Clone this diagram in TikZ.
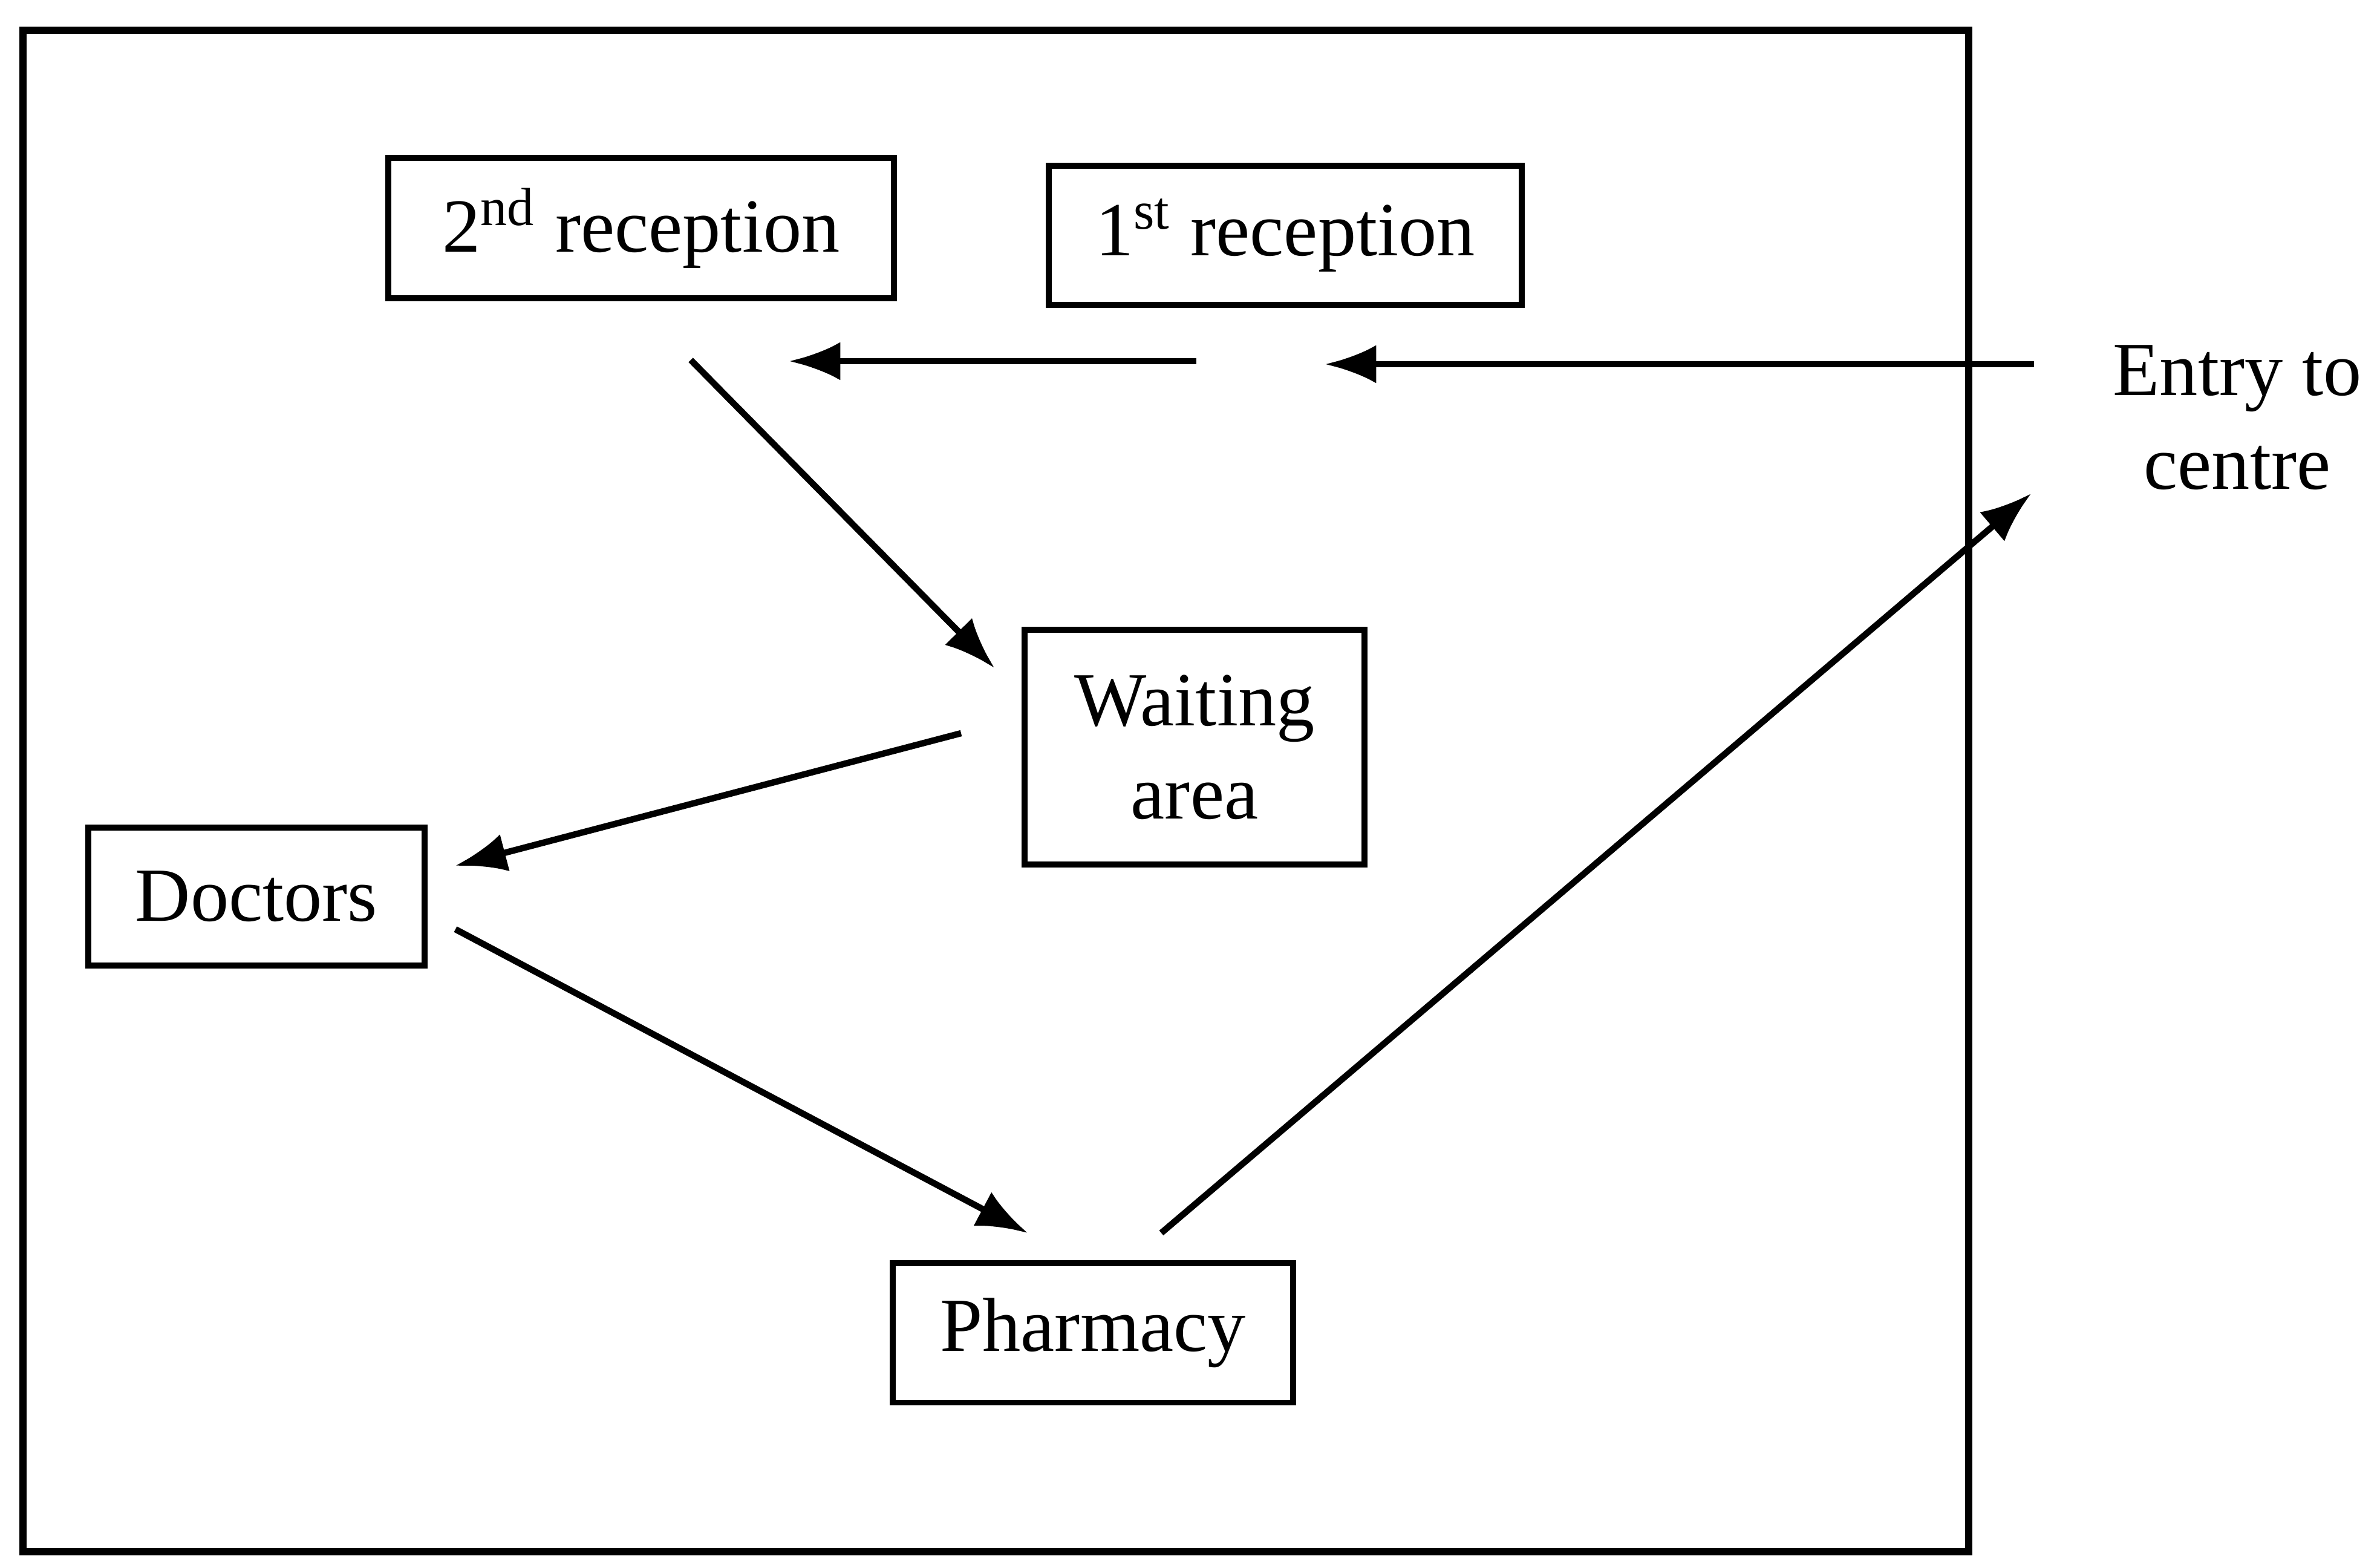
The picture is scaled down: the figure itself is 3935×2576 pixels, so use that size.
\documentclass[tikz,border=0pt]{standalone}
\usepackage{fontspec}
\setmainfont{Liberation Serif}
\usetikzlibrary{arrows.meta}

\tikzset{
  box/.style={draw, line width=1.4pt, inner sep=0pt, align=center},
  flow/.style={-{Latex[length=12pt,width=9pt]}, line width=1.5pt}
}

\begin{document}
\begin{tikzpicture}[x=0.005cm, y=-0.005cm, font=\fontsize{18}{22}\selectfont]
\useasboundingbox (0,0) rectangle (3935,2576);
\draw[line width=1.6pt] (38,50) rectangle (3255,2565);
% rooms
\node[box, minimum width=4.18cm, minimum height=1.165cm] (rec2) at (1060,377) {2\textsuperscript{nd} reception};
\node[box, minimum width=3.915cm, minimum height=1.15cm] (rec1) at (2125,389) {1\textsuperscript{st} reception};
\node[box, minimum width=2.81cm, minimum height=1.945cm] (wait) at (1975,1235) {Waiting\\area};
\node[box, minimum width=2.785cm, minimum height=1.14cm] (doc) at (424,1482) {Doctors};
\node[box, minimum width=3.31cm, minimum height=1.155cm] (pharm) at (1807,2203) {Pharmacy};
\node[align=center] (entry) at (3699,690) {Entry to\\centre};
% arrow ends
\coordinate (in1) at (3363,602);
\coordinate (in2) at (2191,602);
\coordinate (mid1) at (1978,597);
\coordinate (mid2) at (1305,597);
\coordinate (r2out) at (1142,595);
\coordinate (wtin) at (1644,1104);
\coordinate (wtout) at (1589,1212);
\coordinate (docin) at (753,1431);
\coordinate (docout) at (753,1536);
\coordinate (phin) at (1699,2038);
\coordinate (phout) at (1920,2038);
\coordinate (exit) at (3358,816);
% path through the centre
\draw[flow] (in1) -- (in2);
\draw[flow] (mid1) -- (mid2);
\draw[flow] (r2out) -- (wtin);
\draw[flow] (wtout) -- (docin);
\draw[flow] (docout) -- (phin);
\draw[flow] (phout) -- (exit);
\end{tikzpicture}
\end{document}
